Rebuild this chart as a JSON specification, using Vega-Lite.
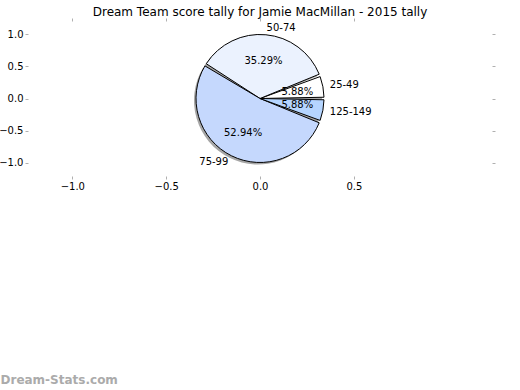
{
  "$schema": "https://vega.github.io/schema/vega-lite/v6.json",
  "autosize": "none",
  "width": 464,
  "height": 155,
  "padding": {"left": 28, "top": 21, "right": 28, "bottom": 214},
  "background": "white",
  "config": {
    "view": {"stroke": null},
    "font": "DejaVu Sans",
    "axis": {"grid": false, "domain": false, "tickColor": "#b0b0b0", "tickSize": 3, "tickWidth": 1, "labelFont": "DejaVu Sans", "labelFontSize": 10, "labelColor": "#000000", "labelPadding": 2}
  },
  "title": {"text": "Dream Team score tally for Jamie MacMillan - 2015 tally", "font": "DejaVu Sans", "fontSize": 12, "fontWeight": "normal", "color": "#000000", "anchor": "middle", "offset": -1},
  "data": {"values": [
    {"range": "25-49", "lo": 25, "share": 0.0588},
    {"range": "50-74", "lo": 50, "share": 0.3529},
    {"range": "75-99", "lo": 75, "share": 0.5294},
    {"range": "125-149", "lo": 125, "share": 0.0588}
  ]},
  "layer": [
    {
      "mark": {"type": "arc", "outerRadius": 64, "padAngle": 0.04, "fill": "#808080", "opacity": 0.7, "xOffset": -2, "yOffset": 2},
      "encoding": {
        "x": {"datum": 0, "type": "quantitative", "scale": {"domain": [-1.236, 1.236], "nice": false, "zero": false},
              "axis": {"orient": "bottom", "values": [-1, -0.5, 0, 0.5], "format": ".1f",
                       "title": "Dream-Stats.com", "titleFont": "DejaVu Sans", "titleFontSize": 12, "titleFontWeight": "bold", "titleColor": "#ababab",
                       "titleAnchor": null, "titleAlign": "left", "titleBaseline": "alphabetic", "titleX": -28, "titleY": 207}},
        "y": {"datum": 0, "type": "quantitative", "scale": {"domain": [-1.21, 1.21], "nice": false, "zero": false},
              "axis": {"orient": "left", "values": [-1, -0.5, 0, 0.5, 1], "format": ".1f", "title": null}},
        "theta": {"field": "share", "type": "quantitative", "stack": true, "scale": {"range": [1.5708, -4.7124]}},
        "order": {"field": "lo", "type": "quantitative"}
      }
    },
    {
      "mark": {"type": "arc", "outerRadius": 64, "padAngle": 0.04, "stroke": "#000000", "strokeWidth": 1},
      "encoding": {
        "x": {"datum": 0, "type": "quantitative", "axis": {"orient": "top", "values": [-1, -0.5, 0, 0.5], "labels": false, "title": null}},
        "y": {"datum": 0, "type": "quantitative", "axis": {"orient": "right", "values": [-1, -0.5, 0, 0.5, 1], "labels": false, "title": null}},
        "theta": {"field": "share", "type": "quantitative", "stack": true},
        "order": {"field": "lo", "type": "quantitative"},
        "color": {"field": "range", "type": "nominal", "legend": null,
                  "scale": {"domain": ["25-49", "50-74", "75-99", "125-149"], "range": ["#ffffff", "#ebf2fe", "#c5d8fd", "#b5d5ff"]}}
      }
    },
    {
      "mark": {"type": "text", "radius": 38, "font": "DejaVu Sans", "fontSize": 10, "color": "#000000"},
      "encoding": {
        "x": {"datum": 0, "type": "quantitative", "axis": null},
        "y": {"datum": 0, "type": "quantitative", "axis": null},
        "theta": {"field": "share", "type": "quantitative", "stack": true},
        "order": {"field": "lo", "type": "quantitative"},
        "text": {"field": "share", "type": "quantitative", "format": ".2%"}
      }
    },
    {
      "mark": {"type": "text", "radius": 71, "align": "left", "font": "DejaVu Sans", "fontSize": 10, "color": "#000000"},
      "encoding": {
        "x": {"datum": 0, "type": "quantitative", "axis": null},
        "y": {"datum": 0, "type": "quantitative", "axis": null},
        "theta": {"field": "share", "type": "quantitative", "stack": true},
        "order": {"field": "lo", "type": "quantitative"},
        "text": {"condition": {"test": "datum.lo == 75", "value": ""}, "field": "range", "type": "nominal"}
      }
    },
    {
      "mark": {"type": "text", "radius": 71, "align": "right", "font": "DejaVu Sans", "fontSize": 10, "color": "#000000"},
      "encoding": {
        "x": {"datum": 0, "type": "quantitative", "axis": null},
        "y": {"datum": 0, "type": "quantitative", "axis": null},
        "theta": {"field": "share", "type": "quantitative", "stack": true},
        "order": {"field": "lo", "type": "quantitative"},
        "text": {"condition": {"test": "datum.lo != 75", "value": ""}, "field": "range", "type": "nominal"}
      }
    }
  ],
  "resolve": {"axis": {"x": "independent", "y": "independent"}}
}
